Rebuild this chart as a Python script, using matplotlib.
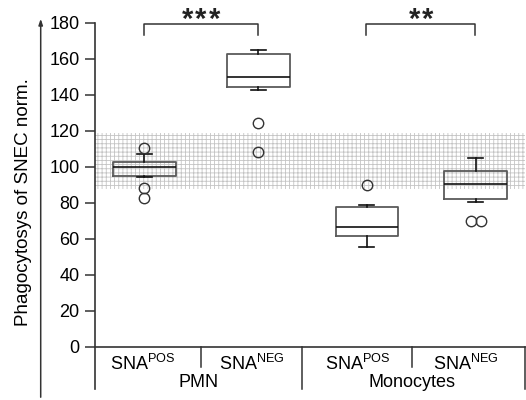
import matplotlib
matplotlib.use("Agg")
import matplotlib.pyplot as plt

plt.rcParams['font.family'] = ['Liberation Sans', 'DejaVu Sans']
plt.rcParams['mathtext.fontset'] = 'custom'
plt.rcParams['mathtext.rm'] = 'Liberation Sans'
plt.rcParams['hatch.color'] = '#c4c4c4'
plt.rcParams['hatch.linewidth'] = 0.6

# values (box stats per group)
groups = ['PMN', 'Monocytes']
conditions = ['POS', 'NEG', 'POS', 'NEG']
positions = [0.96, 2.02, 3.03, 4.04]
q1 = [94.6, 144.4, 61.5, 81.9]
med = [99.7, 149.7, 66.3, 90.2]
q3 = [102.8, 162.6, 77.8, 97.6]
whislo = [94.4, 142.8, 55.2, 80.4]
whishi = [107.2, 164.8, 78.5, 104.7]
fliers = [[110.6, 88.0, 82.5], [124.1, 108.2], [89.8], [70.0, 70.0]]
flier_offsets = [[0, 0, 0], [0, 0], [0], [-0.045, 0.055]]

# reference band (normal range)
band_lo, band_hi = 87.4, 118.9

# significance brackets
sig_pairs = [(0, 1), (2, 3)]
sig_stars = [3, 2]

# x axis layout
label_x = [0.947, 1.96, 2.94, 3.95]
group_x = [1.46, 3.45]
short_div = [1.49, 3.45]
long_div = [2.43, 4.5]

fig = plt.figure(figsize=(5.26, 4.0), dpi=100)
ax = fig.add_axes([95 / 526, 11 / 400, 430 / 526, 388 / 400])
ax.set_xlim(0.5, 4.5)
ax.set_ylim(-23.5, 192)

dark = '#333333'

# shaded band
ax.fill_between([0.5, 4.5], band_lo, band_hi, facecolor='white', hatch='++++',
                edgecolor='#c4c4c4', linewidth=0, zorder=0)

stats = []
for i in range(4):
    stats.append(dict(med=med[i], q1=q1[i], q3=q3[i], whislo=whislo[i],
                      whishi=whishi[i], fliers=[]))
ax.bxp(stats, positions=positions, widths=0.58, showfliers=False,
       capwidths=0.14,
       boxprops=dict(color='#5a5a5a', linewidth=1.3),
       medianprops=dict(color='#111111', linewidth=1.2),
       whiskerprops=dict(color='#111111', linewidth=1.2),
       capprops=dict(color='#111111', linewidth=1.2))

for i, pts in enumerate(fliers):
    xs = [positions[i] + off for off in flier_offsets[i]]
    ax.plot(xs, pts, 'o', markerfacecolor='none', markeredgecolor=dark,
            markersize=7.5, markeredgewidth=1.0, zorder=3)

# brackets with spaced asterisks
for (a, b), n in zip(sig_pairs, sig_stars):
    xa, xb = positions[a] - 0.005, positions[b] - 0.005
    ax.plot([xa, xa, xb, xb], [173, 179.5, 179.5, 173], color=dark, lw=1.1)
    mid = (xa + xb) / 2
    for k in range(n):
        ax.text(mid + (k - (n - 1) / 2) * 0.124, 181.5, '*', ha='center',
                va='center', fontsize=21, fontweight='bold', color='#222222')

# spines and ticks
for s in ['top', 'right']:
    ax.spines[s].set_visible(False)
ax.spines['bottom'].set_position(('data', 0))
ax.spines['left'].set_bounds(-23.5, 180)
for s in ['left', 'bottom']:
    ax.spines[s].set_color(dark)
    ax.spines[s].set_linewidth(1.2)
ax.set_xticks([])
ax.set_yticks(range(0, 181, 20))
ax.tick_params(axis='y', direction='out', length=7, width=1.1, color=dark,
               labelsize=13, pad=4)

# category labels
for x, c in zip(label_x, conditions):
    ax.text(x, -12.9, 'SNA$^{\\mathregular{' + c + '}}$', ha='center',
            va='baseline', fontsize=13)
for x, g in zip(group_x, groups):
    ax.text(x, -22.2, g, ha='center', va='baseline', fontsize=13)
for x in short_div:
    ax.plot([x, x], [0, -11.2], color=dark, lw=1.1, clip_on=False)
for x in long_div:
    ax.plot([x, x], [0, -23.5], color=dark, lw=1.1, clip_on=False)

# y title with arrow line
fig.text(24 / 526, 1 - 202 / 400, 'Phagocytosys of SNEC norm.', rotation=90,
         ha='center', va='center', fontsize=13.5)
ax.annotate('', xy=(40.7 / 526, 1 - 16 / 400), xytext=(40.7 / 526, 0),
            xycoords='figure fraction', textcoords='figure fraction',
            arrowprops=dict(arrowstyle='-|>,head_length=0.35,head_width=0.12',
                            color=dark, lw=1.1))

fig.savefig('out.png', dpi=100)
